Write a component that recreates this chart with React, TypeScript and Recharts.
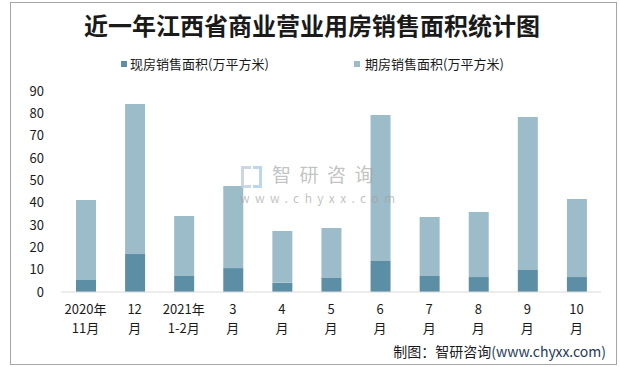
import React from "react";
import { BarChart, Bar, XAxis, YAxis } from "recharts";

const categories = ["2020年\n11月", "12\n月", "2021年\n1-2月", "3\n月", "4\n月", "5\n月", "6\n月", "7\n月", "8\n月", "9\n月", "10\n月"];
const spotArea = [5.4, 17.0, 7.2, 10.7, 4.2, 6.3, 13.9, 7.2, 6.7, 9.9, 6.7];
const futureArea = [35.8, 67.2, 26.8, 36.8, 23.1, 22.4, 65.4, 26.4, 29.1, 68.5, 34.9];
const yTicks = [0, 10, 20, 30, 40, 50, 60, 70, 80, 90];
const seriesNames = ["现房销售面积(万平方米)", "期房销售面积(万平方米)"];

const data = categories.map((c, i) => ({ name: c, spot: spotArea[i], future: futureArea[i] }));

const FONT = "'Noto Sans CJK SC', 'Noto Sans', sans-serif";
const DARK = "#5c8fa6";
const LIGHT = "#9dbcc9";

const XTick = (props: any) => {
  const { x, y, payload } = props;
  const lines = String(payload.value).split("\n");
  return (
    <g>
      {lines.map((l: string, i: number) => (
        <text key={i} x={x} y={y + 14 + i * 19} textAnchor="middle" fontSize={13} fill="#1a1a1a" fontFamily={FONT}>
          {l}
        </text>
      ))}
    </g>
  );
};

export default function App() {
  return (
    <div style={{ position: "absolute", left: 0, top: 0, width: 620, height: 367, background: "#fff", fontFamily: FONT }}>
      <div style={{ position: "absolute", left: 10, top: 2, width: 605, height: 361, border: "1px solid #a6a6a6" }} />
      <div style={{ position: "absolute", left: 0, width: 624, top: 9, textAlign: "center", fontSize: 24, fontWeight: "bold", color: "#1a1a1a", whiteSpace: "nowrap", lineHeight: "32px" }}>
        近一年江西省商业营业用房销售面积统计图
      </div>
      <div style={{ position: "absolute", left: 0, top: 55, width: 620, height: 20, fontSize: 13, color: "#1a1a1a" }}>
        <div style={{ position: "absolute", left: 121, top: 6, width: 6, height: 6, background: DARK }} />
        <div style={{ position: "absolute", left: 130, top: 0, whiteSpace: "nowrap", lineHeight: "18px" }}>{seriesNames[0]}</div>
        <div style={{ position: "absolute", left: 354, top: 6, width: 6, height: 6, background: LIGHT }} />
        <div style={{ position: "absolute", left: 365, top: 0, whiteSpace: "nowrap", lineHeight: "18px" }}>{seriesNames[1]}</div>
      </div>
      <div style={{ position: "absolute", right: 14, top: 341, fontSize: 14, color: "#1a1a1a", whiteSpace: "nowrap", lineHeight: "20px" }}>
        制图：智研咨询<span style={{ color: "#1f3a5a" }}>(www.chyxx.com)</span>
      </div>
      <div style={{ position: "absolute", left: 0, top: 0 }}>
        <BarChart width={620} height={367} data={data} margin={{ top: 91, right: 19, bottom: 15, left: 0 }} barSize={20}>
          <XAxis dataKey="name" tick={<XTick />} tickLine={false} axisLine={{ stroke: "#d9d9d9" }} interval={0} height={60} />
          <YAxis domain={[0, 90]} ticks={yTicks} width={61} axisLine={false} tickLine={false} tickSize={0} tickMargin={17}
            tick={{ fontSize: 13, fill: "#1a1a1a", fontFamily: FONT }} interval={0} />
          <Bar dataKey="spot" stackId="a" fill={DARK} isAnimationActive={false} />
          <Bar dataKey="future" stackId="a" fill={LIGHT} isAnimationActive={false} />
        </BarChart>
      </div>
      <div style={{ position: "absolute", left: 272, top: 164, color: "rgba(160,160,160,0.65)", fontSize: 19, letterSpacing: 8.5, whiteSpace: "nowrap", lineHeight: "20px" }}>智研咨询</div>
      <div style={{ position: "absolute", left: 240, top: 192, color: "rgba(160,160,160,0.65)", fontSize: 12, letterSpacing: 5.4, whiteSpace: "nowrap", lineHeight: "12px" }}>www.chyxx.com</div>
      <div style={{ position: "absolute", left: 241, top: 166, width: 7, height: 16, border: "3px solid rgba(190,205,228,0.8)", borderRight: "none" }} />
      <div style={{ position: "absolute", left: 253, top: 166, width: 6, height: 16, border: "3px solid rgba(170,205,236,0.8)", borderLeft: "none" }} />
    </div>
  );
}
